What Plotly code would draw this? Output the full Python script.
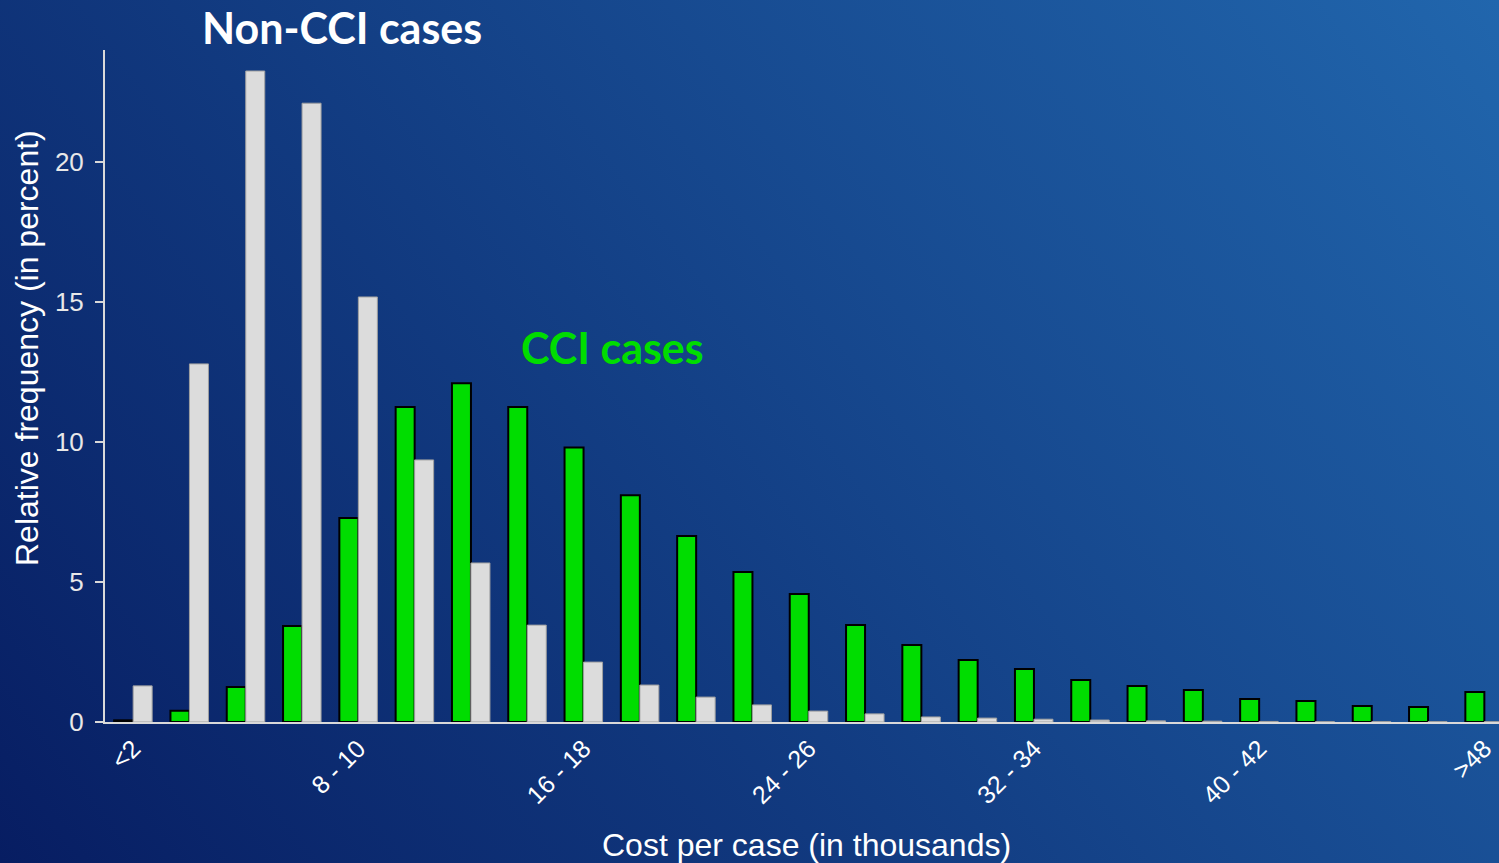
import base64
import plotly.graph_objects as go

categories = ["<2", "2 - 4", "4 - 6", "6 - 8", "8 - 10", "10 - 12", "12 - 14", "14 - 16",
              "16 - 18", "18 - 20", "20 - 22", "22 - 24", "24 - 26", "26 - 28", "28 - 30",
              "30 - 32", "32 - 34", "34 - 36", "36 - 38", "38 - 40", "40 - 42", "42 - 44",
              "44 - 46", "46 - 48", ">48"]
cci = [0.06, 0.4, 1.25, 3.43, 7.29, 11.25, 12.1, 11.25, 9.8, 8.1, 6.64, 5.36, 4.57, 3.46,
       2.75, 2.21, 1.89, 1.5, 1.29, 1.14, 0.82, 0.75, 0.57, 0.54, 1.07]
non_cci = [1.29, 12.79, 23.25, 22.1, 15.18, 9.36, 5.68, 3.46, 2.14, 1.32, 0.89, 0.61, 0.39,
           0.29, 0.18, 0.14, 0.1, 0.07, 0.04, 0.03, 0.02, 0.01, 0.01, 0.01, 0.01]
tick_idx = [0, 4, 8, 12, 16, 20, 24]
tick_labels = ["<2", "8 - 10", "16 - 18", "24 - 26", "32 - 34", "40 - 42", ">48"]

W, H = 1499, 863
ML, MR, MT, MB = 105, 0, 50, 141
PW, PH = W - ML - MR, H - MT - MB

svg = f'''<svg xmlns="http://www.w3.org/2000/svg" width="{W}" height="{H}" viewBox="0 0 {W} {H}" preserveAspectRatio="none">
<defs><linearGradient id="g" gradientUnits="userSpaceOnUse" x1="0" y1="{H}" x2="1360" y2="-181">
<stop offset="0" stop-color="#071d62"/><stop offset="1" stop-color="#2166ad"/></linearGradient></defs>
<rect x="0" y="0" width="{W}" height="{H}" fill="url(#g)"/></svg>'''
bg = "data:image/svg+xml;base64," + base64.b64encode(svg.encode()).decode()

x = list(range(len(categories)))
fig = go.Figure()
fig.add_trace(go.Bar(x=x, y=cci, name="CCI cases",
                     marker=dict(color="#00dd00", line=dict(color="#000000", width=2))))
fig.add_trace(go.Bar(x=x, y=non_cci, name="Non-CCI cases",
                     marker=dict(color="#dcdcdc", line=dict(color="#a0a0a0", width=1))))


def ann(text, px, py, size, color="white", family=None, bold=False, angle=0):
    f = dict(size=size, color=color)
    if family:
        f["family"] = family
    if bold:
        f["weight"] = "bold"
    return dict(text=text, xref="paper", yref="paper",
                x=(px - ML) / PW, y=(MT + PH - py) / PH,
                xanchor="center", yanchor="middle", showarrow=False,
                textangle=angle, font=f)


fig.update_layout(
    width=W, height=H,
    margin=dict(l=ML, r=MR, t=MT, b=MB),
    paper_bgcolor="#0f3479", plot_bgcolor="rgba(0,0,0,0)",
    showlegend=False, barmode="group", bargap=0.325, bargroupgap=0,
    font=dict(family="Liberation Sans, Arial", color="white"),
    images=[dict(source=bg, xref="paper", yref="paper",
                 x=-ML / PW, y=1 + MT / PH, sizex=W / PW, sizey=H / PH,
                 sizing="stretch", xanchor="left", yanchor="top", layer="below")],
    xaxis=dict(range=[-0.5, -0.5 + PW / 56.3], tickvals=tick_idx, ticktext=tick_labels,
               tickangle=-45, tickfont=dict(size=25, color="white"),
               showline=True, linecolor="#d9d9d9", linewidth=2, showgrid=False,
               zeroline=False, ticks=""),
    yaxis=dict(range=[0, 24], tickvals=[0, 5, 10, 15, 20],
               tickfont=dict(size=26, color="#e8e8e8"), ticks="outside", ticklen=8,
               tickcolor="#d9d9d9", tickwidth=2, showline=True, linecolor="#d9d9d9",
               linewidth=2, showgrid=False, zeroline=False, ticklabelstandoff=6),
    annotations=[
        ann("Non-CCI cases", 342, 28, 43, family="Lato", bold=True),
        ann("CCI cases", 612, 347, 43, color="#00dd00", family="Lato", bold=True),
        ann("Cost per case (in thousands)", 807, 845, 32),
        ann("Relative frequency (in percent)", 27, 348, 32, angle=-90),
    ],
)
fig.write_html("out.html", config={"displayModeBar": False},
               post_script="document.body.style.margin='0';document.body.style.overflow='hidden';")
